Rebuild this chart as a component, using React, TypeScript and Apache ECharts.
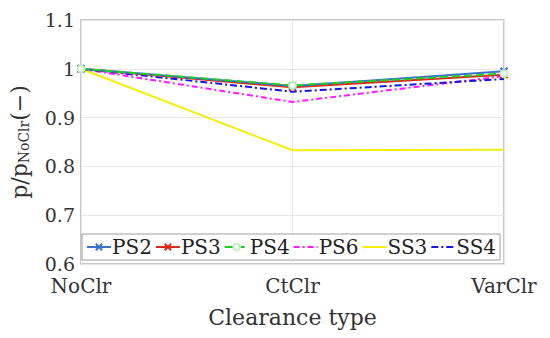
import React, { useEffect, useRef } from "react";
import * as echarts from "echarts";

const categories = ["NoClr", "CtClr", "VarClr"];
const ps2 = [1, 0.965, 0.995];
const ps3 = [1, 0.962, 0.988];
const ps4 = [1, 0.966, 0.99];
const ps6 = [1, 0.932, 0.985];
const ss3 = [1, 0.833, 0.834];
const ss4 = [1, 0.953, 0.979];
const yTicks = [0.6, 0.7, 0.8, 0.9, 1, 1.1];

const FONT = "DejaVu Serif";
const xSym = "path://M0,0L10,10M10,0L0,10";

export default function App() {
  const ref = useRef<HTMLDivElement>(null);
  useEffect(() => {
    const chart = echarts.init(ref.current!, undefined, { renderer: "svg" });
    const mk = (name: string, data: number[], color: string, type: any, symbol: string, symbolSize: number) => ({
      name,
      type: "line",
      data,
      symbol,
      symbolSize,
      showSymbol: symbol !== "none",
      lineStyle: { color, width: 2, type },
      itemStyle: { color: symbol === "emptyCircle" ? "#bff0bf" : color, borderColor: color, borderWidth: 2 },
      z: 3,
    });
    const noMark = { itemStyle: { opacity: 0 } };
    chart.setOption({
      animation: false,
      textStyle: { fontFamily: FONT },
      grid: { left: 81, right: 46, top: 20, bottom: 74, show: true, borderColor: "#b5b5b5", borderWidth: 1.5, backgroundColor: "transparent" },
      xAxis: {
        type: "category",
        data: categories,
        boundaryGap: false,
        axisLine: { show: false },
        axisTick: { show: false },
        axisLabel: { fontFamily: FONT, fontSize: 20, color: "#333", margin: 12 },
        splitLine: { show: true, lineStyle: { color: "#e6e6e6", width: 1 } },
        name: "Clearance type",
        nameLocation: "middle",
        nameGap: 42,
        nameTextStyle: { fontFamily: FONT, fontSize: 22, color: "#333" },
      },
      yAxis: {
        type: "value",
        min: yTicks[0],
        max: yTicks[yTicks.length - 1],
        interval: 0.1,
        axisLine: { show: false },
        axisTick: { show: false },
        axisLabel: {
          fontFamily: FONT,
          fontSize: 19,
          color: "#333",
          margin: 6,
          formatter: (v: number) => String(parseFloat(v.toFixed(1))),
        },
        splitLine: { show: true, lineStyle: { color: "#e6e6e6", width: 1 } },
        name: "p/p{sub|NoClr}(−)",
        nameLocation: "middle",
        nameGap: 50,
        nameRotate: 90,
        nameTextStyle: {
          fontFamily: FONT,
          fontSize: 22,
          color: "#333",
          rich: { sub: { fontFamily: FONT, fontSize: 14, color: "#333", verticalAlign: "bottom", padding: [10, 0, 0, 0] } },
        },
      },
      legend: {
        left: 82,
        top: 234,
        width: 422,
        padding: [3, 4],
        itemGap: 3,
        itemWidth: 24,
        itemHeight: 8,
        borderColor: "#a0a0a0",
        borderWidth: 1,
        backgroundColor: "#fff",
        textStyle: { fontFamily: FONT, fontSize: 20, color: "#222", padding: [0, 0, 0, -4] },
        data: [
          { name: "PS2" },
          { name: "PS3" },
          { name: "PS4" },
          { name: "PS6", ...noMark },
          { name: "SS3", ...noMark },
          { name: "SS4", ...noMark },
        ],
      },
      series: [
        mk("SS3", ss3, "#f2ee10", "solid", "none", 0),
        mk("PS6", ps6, "#ff1aff", [6, 3, 2, 3], "none", 0),
        mk("SS4", ss4, "#1515e0", [7, 3, 2, 3], "none", 0),
        mk("PS3", ps3, "#d82a18", "solid", xSym, 7),
        mk("PS2", ps2, "#3a72c8", "solid", xSym, 7),
        mk("PS4", ps4, "#22cc22", "dashed", "emptyCircle", 7),
      ],
    });
    return () => chart.dispose();
  }, []);
  return <div ref={ref} style={{ width: 550, height: 338, position: "absolute", left: 0, top: 0 }} />;
}
